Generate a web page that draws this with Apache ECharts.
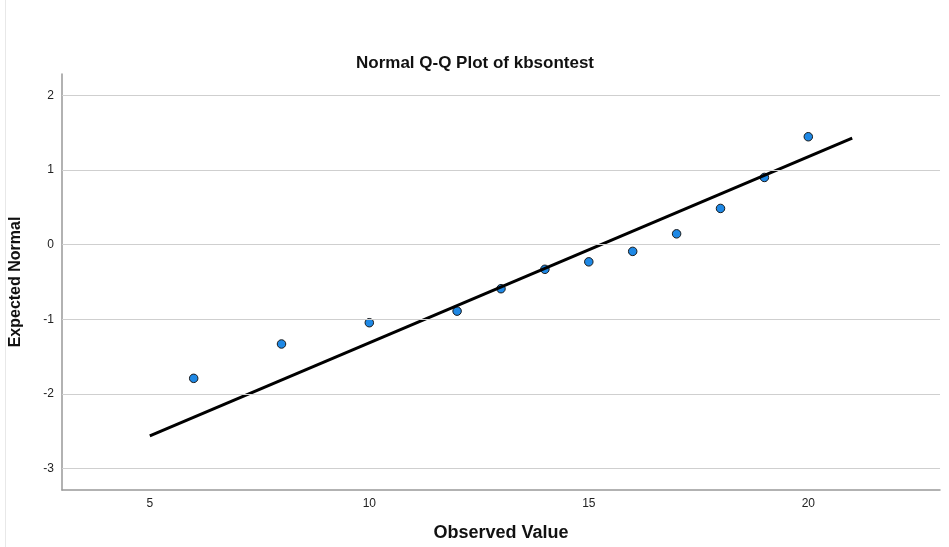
<!DOCTYPE html>
<html>
<head>
<meta charset="utf-8">
<script src="https://cdn.jsdelivr.net/npm/echarts@6/dist/echarts.min.js"></script>
<style>html,body{margin:0;padding:0;background:#fff}#c{width:949px;height:547px}</style>
</head>
<body>
<div id="c"></div>
<script>
var observed = [6, 8, 10, 12, 13, 14, 15, 16, 17, 18, 19, 20];
var expected = [-1.79, -1.33, -1.045, -0.89, -0.59, -0.33, -0.23, -0.09, 0.145, 0.485, 0.9, 1.445];
var lineX = [5, 21];
var lineY = [-2.56, 1.425];
var xTicks = [5, 10, 15, 20];
var yTicks = [-3, -2, -1, 0, 1, 2];

var chart = echarts.init(document.getElementById('c'));
var pts = observed.map(function (v, i) { return [v, expected[i]]; });
var linePts = lineX.map(function (v, i) { return [v, lineY[i]]; });

chart.setOption({
  animation: false,
  backgroundColor: '#fff',
  title: {
    text: 'Normal Q-Q Plot of kbsontest',
    left: 470, top: 50, textAlign: 'center',
    textStyle: { fontFamily: 'Liberation Sans, Arial, sans-serif', fontSize: 17, fontWeight: 'bold', color: '#111' }
  },
  graphic: [{
    type: 'line', shape: { x1: 5.5, y1: 0, x2: 5.5, y2: 547 },
    style: { stroke: '#e8e8e8', lineWidth: 1 }, silent: true
  }],
  grid: { left: 61, right: 9, top: 74, bottom: 57 },
  xAxis: {
    type: 'value', min: 3, max: 23, interval: 1,
    name: 'Observed Value', nameLocation: 'middle', nameGap: 34,
    nameTextStyle: { fontFamily: 'Liberation Sans, Arial, sans-serif', fontSize: 18, fontWeight: 'bold', color: '#111' },
    axisLine: { onZero: false, lineStyle: { color: '#999', width: 1.5 } },
    axisTick: { show: false },
    splitLine: { show: false },
    axisLabel: {
      color: '#222', fontFamily: 'Liberation Sans, Arial, sans-serif', fontSize: 12, margin: 8,
      formatter: function (v) { return xTicks.indexOf(v) >= 0 ? String(v) : ''; }
    }
  },
  yAxis: {
    type: 'value', min: -3.285, max: 2.285,
    name: 'Expected Normal', nameLocation: 'middle', nameGap: 38, nameRotate: 90,
    nameTextStyle: { fontFamily: 'Liberation Sans Narrow, Arial Narrow, Liberation Sans, sans-serif', fontSize: 16, fontWeight: 'bold', color: '#111' },
    axisLine: { show: true, onZero: false, lineStyle: { color: '#999', width: 1.5 } },
    axisTick: { show: false, customValues: yTicks },
    splitLine: { show: false },
    axisLabel: {
      customValues: yTicks,
      color: '#222', fontFamily: 'Liberation Sans, Arial, sans-serif', fontSize: 12, margin: 8
    }
  },
  series: [
    {
      type: 'scatter', data: [], z: 1, silent: true,
      markLine: {
        silent: true, symbol: 'none', label: { show: false },
        lineStyle: { color: '#cfcfcf', width: 1.2, type: 'solid' },
        data: yTicks.map(function (t) { return { yAxis: t }; })
      }
    },
    {
      type: 'scatter', data: pts, symbol: 'circle', symbolSize: 8.5, z: 2,
      itemStyle: { color: '#1e88e5', borderColor: '#1a1a1a', borderWidth: 1, opacity: 1 }
    },
    {
      type: 'line', data: linePts, symbol: 'none', z: 3,
      lineStyle: { color: '#000', width: 3 }
    }
  ]
});
</script>
</body>
</html>
